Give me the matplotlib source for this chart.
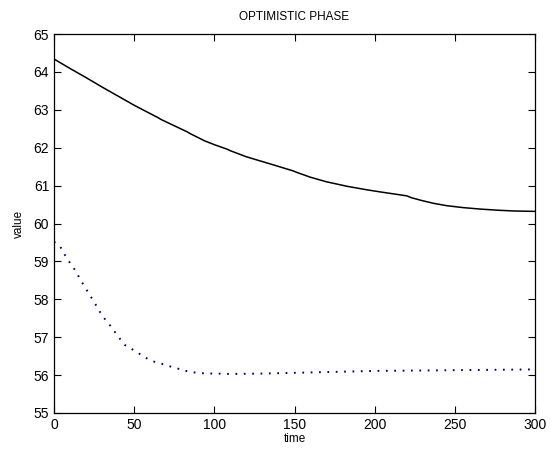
import numpy as np
import matplotlib
matplotlib.use('Agg')
import matplotlib.pyplot as plt

# solid curve
t_solid = [0, 10, 20, 30, 40, 50, 60, 65, 67, 75, 83, 85, 94, 100, 108, 110,
           120, 135, 149, 152, 160, 170, 183, 195, 204, 212, 220, 223, 229, 237, 245,
           255, 266, 277, 287, 300]
v_solid = [64.34, 64.09, 63.85, 63.60, 63.36, 63.12, 62.90, 62.79, 62.74, 62.58, 62.42, 62.37,
           62.18, 62.08, 61.96, 61.92, 61.76, 61.57, 61.39, 61.34, 61.22, 61.10, 60.98,
           60.89, 60.83, 60.78, 60.73, 60.68, 60.61, 60.53, 60.47, 60.42, 60.38, 60.35,
           60.33, 60.32]

# dotted curve
t_dot = [0, 4, 8, 13, 17, 21.5, 26, 30, 35, 40, 44, 50, 53, 57, 62, 67, 71.5, 76,
         81, 86, 91, 100, 110, 130, 150, 200, 250, 300]
v_dot = [59.52, 59.38, 59.08, 58.78, 58.48, 58.17, 57.86, 57.57, 57.31, 57.02, 56.80,
         56.65, 56.57, 56.46, 56.36, 56.30, 56.24, 56.19, 56.12, 56.08, 56.05, 56.04,
         56.03, 56.04, 56.06, 56.11, 56.13, 56.15]

plt.rcParams['font.family'] = ['Liberation Sans', 'DejaVu Sans']

fig = plt.figure(figsize=(5.57, 4.55), dpi=100)
ax = fig.add_axes([54/557, 1-413/455, 481/557, 379/455])

ax.plot(t_solid, v_solid, color='black', lw=1.1)
ax.plot(t_dot, v_dot, color='#000070', lw=1.4, linestyle=(0, (0.9, 3.4)))

ax.set_xlim(0, 300)
ax.set_ylim(55, 65)
ax.set_xticks(np.arange(0, 301, 50))
ax.set_yticks(np.arange(55, 66, 1))
ax.tick_params(direction='in', top=True, right=True, length=5, labelsize=10, width=0.8)
for s in ax.spines.values():
    s.set_linewidth(0.9)
ax.set_xlabel('time', fontsize=8.5, labelpad=1)
ax.set_ylabel('value', fontsize=8.5, labelpad=6)
ax.set_title('OPTIMISTIC PHASE', fontsize=8.5, pad=10)

fig.savefig('out.png', dpi=100)
plt.close()
